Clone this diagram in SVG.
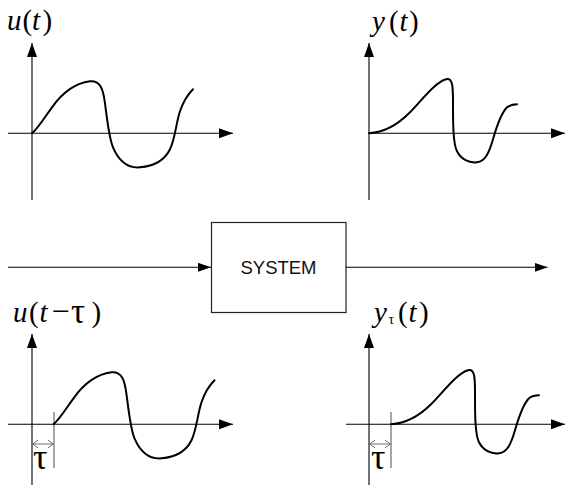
<svg xmlns="http://www.w3.org/2000/svg" xmlns:xlink="http://www.w3.org/1999/xlink" width="566" height="487" viewBox="0 0 566 487">
<style>
.ax{stroke:#000;stroke-width:1.1;fill:none;marker-end:url(#ah)}
.cv{stroke:#000;stroke-width:2;fill:none;stroke-linecap:round;stroke-linejoin:round}
.tk{stroke:#808080;stroke-width:1.4;fill:none}
.dm{stroke:#606060;stroke-width:0.9;fill:none;marker-start:url(#ch);marker-end:url(#ch)}
.m{font-family:'Liberation Serif','DejaVu Serif',serif;font-size:29px;fill:#000}
.i{font-style:italic}
.g{font-family:'Liberation Serif','DejaVu Serif',serif;fill:#000}
.box{fill:#fff;stroke:#222;stroke-width:1.2}
.lbl{font-family:'Liberation Sans',Arial,sans-serif;font-size:18.5px;fill:#111;text-anchor:middle}
.cn{stroke:#000;stroke-width:1.1;fill:none;marker-end:url(#ah2)}
</style>
<defs>
<marker id="ah" markerUnits="userSpaceOnUse" markerWidth="14" markerHeight="10" refX="14" refY="5" orient="auto">
<path d="M0,0 L14,5 L0,10 z" fill="#000"/>
</marker>
<marker id="ah2" markerUnits="userSpaceOnUse" markerWidth="13" markerHeight="9" refX="13" refY="4.5" orient="auto">
<path d="M0,0 L13,4.5 L0,9 z" fill="#000"/>
</marker>
<marker id="ch" markerUnits="userSpaceOnUse" markerWidth="6" markerHeight="8" refX="5.5" refY="4" orient="auto-start-reverse">
<path d="M0,0 L5.5,4 L0,8" fill="none" stroke="#606060" stroke-width="0.9"/>
</marker>
<path id="ucurve" d="M0,0 C6,-5 12,-15 20,-26 C30,-40 42,-50 58,-52 C68,-53 71,-45 73,-30 C75,-15 77,5 81,14 C87,28 96,35 108,34 C122,33 132,28 138,16 C143,6 144,-10 148,-22 C152,-34 157,-40 161,-44"/>
<path id="ycurve" d="M0,0 C15,-1 28,-8 40,-20 C52,-32 66,-51 77,-54 C84,-56 84,-46 84,-30 C84,-10 84,10 88,18 C92,26 100,30 108,29 C116,28 120,20 124,6 C128,-8 132,-20 138,-26 C142,-29 146,-29 148,-29"/>
</defs>

<g id="plot-u">
<line class="ax" x1="32" y1="200" x2="32" y2="43"/>
<line class="ax" x1="8" y1="133.3" x2="233" y2="133.3"/>
<use xlink:href="#ucurve" class="cv" transform="translate(32,133.3)"/>
<text class="m" y="30"><tspan x="7" class="i">u</tspan><tspan x="22.5">(</tspan><tspan x="32" class="i">t</tspan><tspan x="42.5">)</tspan></text>
</g>

<g id="plot-y">
<line class="ax" x1="369" y1="200" x2="369" y2="43"/>
<line class="ax" x1="369" y1="133.3" x2="565" y2="133.3"/>
<use xlink:href="#ycurve" class="cv" transform="translate(369,133.3)"/>
<text class="m" y="31"><tspan x="372" class="i">y</tspan><tspan x="389">(</tspan><tspan x="399.5" class="i">t</tspan><tspan x="409">)</tspan></text>
</g>

<g id="system">
<rect class="box" x="211.5" y="222.5" width="134.5" height="90"/>
<text class="lbl" x="278.5" y="273.5">SYSTEM</text>
</g>

<g id="plot-u-delayed">
<line class="ax" x1="32" y1="485" x2="32" y2="334"/>
<line class="ax" x1="8" y1="424.3" x2="233" y2="424.3"/>
<line class="tk" x1="54" y1="412" x2="54" y2="468"/>
<line class="dm" x1="32.6" y1="444" x2="53.4" y2="444"/>
<use xlink:href="#ucurve" class="cv" transform="translate(53.5,424.3)"/>
<text class="g" x="33" y="469" font-size="36">τ</text>
<text class="m" y="322"><tspan x="13" class="i">u</tspan><tspan x="29">(</tspan><tspan x="39.5" class="i">t</tspan><tspan x="51.5" font-size="32">−</tspan><tspan x="71" y="323" font-size="35">τ</tspan><tspan x="91.5" y="322">)</tspan></text>
</g>

<g id="plot-y-delayed">
<line class="ax" x1="369" y1="485" x2="369" y2="334"/>
<line class="ax" x1="346" y1="424.3" x2="565" y2="424.3"/>
<line class="tk" x1="391" y1="412" x2="391" y2="468"/>
<line class="dm" x1="369.6" y1="444" x2="390.4" y2="444"/>
<use xlink:href="#ycurve" class="cv" transform="translate(391,424.3)"/>
<text class="g" x="371" y="469" font-size="36">τ</text>
<text class="m" y="322"><tspan x="374" class="i">y</tspan><tspan x="388.5" y="324" font-size="14">τ</tspan><tspan x="398" y="322">(</tspan><tspan x="408.5" class="i">t</tspan><tspan x="419">)</tspan></text>
</g>

<g id="connectors">
<line class="cn" x1="8" y1="267.3" x2="211" y2="267.3"/>
<line class="cn" x1="346" y1="267.3" x2="547.5" y2="267.3"/>
</g>
</svg>
